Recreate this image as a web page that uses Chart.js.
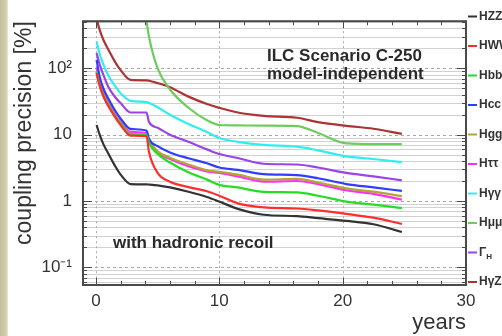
<!DOCTYPE html>
<html>
<head>
<meta charset="utf-8">
<script src="https://cdn.jsdelivr.net/npm/chart.js@4"></script>
<style>
  html, body { margin: 0; padding: 0; background: #fff; }
  canvas { display: block; }
</style>
</head>
<body>
<canvas id="c" width="502" height="336"></canvas>
<script>
// Running time in years at which each coupling precision is evaluated
const years = [0.05, 0.3, 0.6, 1, 1.5, 2, 2.8, 4.1, 4.3, 5, 6, 7.5, 9, 10, 11.5, 13.6, 16.3, 18, 20.3, 22.5, 24.8];

// Coupling precision [%] per coupling
const hZZ  = [14, 10, 7.2, 5.2, 3.5, 2.5, 1.8, 1.78, 1.77, 1.72, 1.6, 1.38, 1.15, 0.98, 0.76, 0.62, 0.59, 0.55, 0.5, 0.445, 0.34];
const hWW  = [85, 55, 38, 27, 19, 14, 9.7, 9.5, 5.5, 2.65, 1.95, 1.62, 1.4, 1.2, 0.92, 0.8, 0.77, 0.72, 0.64, 0.56, 0.45];
const hBB  = [88, 56, 39, 28, 19.5, 14.5, 10, 9.8, 7.5, 5.1, 3.8, 2.7, 2.1, 1.75, 1.6, 1.37, 1.35, 1.2, 0.98, 0.88, 0.78];
const hCC  = [135, 75, 50, 35, 24, 17.5, 12.2, 11.5, 8.6, 6.7, 5.4, 4.4, 3.7, 3.2, 2.95, 2.54, 2.45, 2.2, 1.8, 1.6, 1.42];
const hGG  = [90, 57, 40, 29, 20, 15, 10.3, 10.1, 8.3, 5.6, 4.5, 3.55, 2.9, 2.75, 2.5, 2.1, 2.15, 1.9, 1.55, 1.38, 1.18];
const hTT  = [103, 62, 43, 31, 21, 15.5, 11, 10.5, 8.0, 5.4, 4.3, 3.35, 2.8, 2.65, 2.35, 1.96, 2.0, 1.8, 1.45, 1.28, 1.05];
const hAA  = [254, 165, 115, 78, 56, 42, 32.4, 31, 30, 26, 20, 14.5, 11, 8.9, 7.8, 7.0, 6.6, 5.8, 4.7, 4.3, 3.85];
const hMM  = [null, null, null, null, null, null, null, 520, 300, 100, 48, 25.5, 16.5, 14, 13.8, 13.7, 13.5, 10.6, 7.4, 7.2, 7.2];
const gamH = [171, 115, 80, 53, 38, 30, 21.6, 21.6, 15.5, 12.7, 10, 7.8, 6.0, 5.1, 4.45, 3.64, 3.55, 3.2, 2.65, 2.35, 2.05];
const hZA  = [560, 380, 270, 192, 130, 94, 67, 66, 65, 60, 52, 37.5, 29, 25.4, 21.6, 19.2, 18, 15.5, 13.6, 12.3, 10.3];

const seriesNames  = ['HZZ', 'HWW', 'Hbb', 'Hcc', 'Hgg', 'Hττ', 'Hγγ', 'Hμμ', 'Γ_H', 'HγZ'];
const seriesValues = [hZZ, hWW, hBB, hCC, hGG, hTT, hAA, hMM, gamH, hZA];
const seriesColors = ['#333333', '#ff2e2e', '#25dd25', '#2f3dff', '#b3a535', '#ff2eff',
                      '#30eeee', '#6ccc5c', '#9a44e8', '#ab3434'];

// Axis ticks
const xTicks = [0, 10, 20, 30];
const yTickLabels = { 0.1: '10⁻¹', 1: '1', 10: '10', 100: '10²' };

const FONT = '"Liberation Sans", Arial, Helvetica, sans-serif';
const INK = '#333333';

const datasets = seriesValues.map((vals, k) => ({
  label: seriesNames[k],
  data: years.map((x, i) => ({ x: x, y: vals[i] })),
  borderColor: seriesColors[k],
  borderWidth: 2.2,
  pointRadius: 0,
  fill: false,
  cubicInterpolationMode: 'monotone',
  spanGaps: false
}));

function logTickValues(min, max) {
  const out = [];
  for (let e = -2; e <= 3; e++) {
    for (let m = 1; m <= 9; m++) {
      const v = parseFloat((m * Math.pow(10, e)).toPrecision(6));
      if (v >= min && v <= max) out.push(v);
    }
  }
  return out;
}

const decoration = {
  id: 'decoration',
  beforeDraw(chart) {
    const ctx = chart.ctx;
    ctx.save();
    ctx.fillStyle = '#ffffff';
    ctx.fillRect(0, 0, chart.width, chart.height);
    const g = ctx.createLinearGradient(0, 0, 8, 0);
    g.addColorStop(0, '#c4c09a');
    g.addColorStop(0.8, '#d2cfb2');
    g.addColorStop(1, '#ecebe0');
    ctx.fillStyle = g;
    ctx.fillRect(0, 0, 8, chart.height);
    ctx.restore();
  },
  beforeDatasetsDraw(chart) {
    const { ctx, chartArea: a, scales: { x, y } } = chart;
    ctx.save();
    // horizontal grid at every log step
    y.ticks.forEach(t => {
      const py = Math.round(y.getPixelForValue(t.value)) + 0.5;
      const decade = yTickLabels[t.value] !== undefined;
      ctx.beginPath();
      ctx.strokeStyle = decade ? '#a8a8a8' : '#d2d2d2';
      ctx.lineWidth = 1;
      ctx.setLineDash(decade ? [3, 3] : []);
      ctx.moveTo(a.left, py);
      ctx.lineTo(a.right, py);
      ctx.stroke();
    });
    // vertical dashed lines at the labelled years
    ctx.setLineDash([2, 3]);
    ctx.strokeStyle = '#aaaaaa';
    xTicks.forEach(v => {
      const px = Math.round(x.getPixelForValue(v)) + 0.5;
      if (px >= a.right - 2) return;
      ctx.beginPath();
      ctx.moveTo(px, a.top);
      ctx.lineTo(px, a.bottom);
      ctx.stroke();
    });
    ctx.restore();
  },
  afterDatasetsDraw(chart) {
    const { ctx, chartArea: a, scales: { x, y } } = chart;
    ctx.save();
    ctx.setLineDash([]);
    ctx.strokeStyle = '#4a4a4a';
    // inward tick marks on all four sides
    ctx.lineWidth = 1;
    for (let v = 0; v <= 28; v += 2) {
      const px = Math.round(x.getPixelForValue(v)) + 0.5;
      const len = (v % 10 === 0) ? 7 : 4;
      ctx.beginPath();
      ctx.moveTo(px, a.bottom); ctx.lineTo(px, a.bottom - len);
      ctx.moveTo(px, a.top); ctx.lineTo(px, a.top + len);
      ctx.stroke();
    }
    y.ticks.forEach(t => {
      const py = Math.round(y.getPixelForValue(t.value)) + 0.5;
      const len = yTickLabels[t.value] !== undefined ? 9 : 4;
      ctx.beginPath();
      ctx.moveTo(a.left, py); ctx.lineTo(a.left + len, py);
      ctx.moveTo(a.right, py); ctx.lineTo(a.right - len, py);
      ctx.stroke();
    });
    // frame
    ctx.lineWidth = 2;
    ctx.strokeRect(a.left, a.top, a.right - a.left, a.bottom - a.top);

    // in-plot annotations
    ctx.fillStyle = '#2a2a2a';
    ctx.font = 'bold 17px ' + FONT;
    ctx.textBaseline = 'middle';
    ctx.textAlign = 'left';
    ctx.fillText('ILC Scenario C-250', 267, 56);
    ctx.fillText('model-independent', 267, 74);
    ctx.fillText('with hadronic recoil', 113, 243);

    // legend column beside the frame
    chart.data.datasets.forEach((ds, i) => {
      const ly = 16.5 + i * 29.5;
      ctx.strokeStyle = ds.borderColor;
      ctx.lineWidth = 2;
      ctx.beginPath();
      ctx.moveTo(468, ly); ctx.lineTo(477, ly);
      ctx.stroke();
      ctx.fillStyle = INK;
      const parts = ds.label.split('_');
      ctx.font = 'bold 12px ' + FONT;
      ctx.fillText(parts[0], 479, ly);
      if (parts[1]) {
        const w = ctx.measureText(parts[0]).width;
        ctx.font = 'bold 8px ' + FONT;
        ctx.fillText(parts[1], 479 + w, ly + 4);
      }
    });
    ctx.restore();
  }
};

new Chart(document.getElementById('c'), {
  type: 'line',
  data: { datasets: datasets },
  options: {
    responsive: false,
    animation: false,
    devicePixelRatio: 1,
    layout: { padding: { top: 13, right: 36, left: 0, bottom: 0 } },
    plugins: { legend: { display: false }, tooltip: { enabled: false } },
    scales: {
      x: {
        type: 'linear',
        min: -1.05,
        max: 30,
        afterFit(s) { s.height = 51; },
        afterBuildTicks(s) { s.ticks = xTicks.map(v => ({ value: v })); },
        grid: { display: false, drawTicks: false },
        border: { display: false },
        ticks: {
          padding: 6,
          color: INK,
          font: { family: FONT, size: 17 },
          callback: v => String(v)
        },
        title: {
          display: true,
          text: 'years',
          align: 'end',
          color: INK,
          font: { family: FONT, size: 22 },
          padding: { top: 0, bottom: 0 }
        }
      },
      y: {
        type: 'logarithmic',
        min: 0.054,
        max: 515,
        afterFit(s) { s.width = 83; },
        afterBuildTicks(s) { s.ticks = logTickValues(s.min, s.max).map(v => ({ value: v })); },
        grid: { display: false, drawTicks: false },
        border: { display: false },
        ticks: {
          autoSkip: false,
          padding: 11,
          color: INK,
          font: { family: FONT, size: 17 },
          callback: v => (yTickLabels[v] !== undefined ? yTickLabels[v] : '')
        },
        title: {
          display: true,
          text: 'coupling precision [%]',
          align: 'end',
          color: INK,
          font: { family: FONT, size: 23 },
          padding: { top: 11, bottom: 0 }
        }
      }
    }
  },
  plugins: [decoration]
});
</script>
</body>
</html>
